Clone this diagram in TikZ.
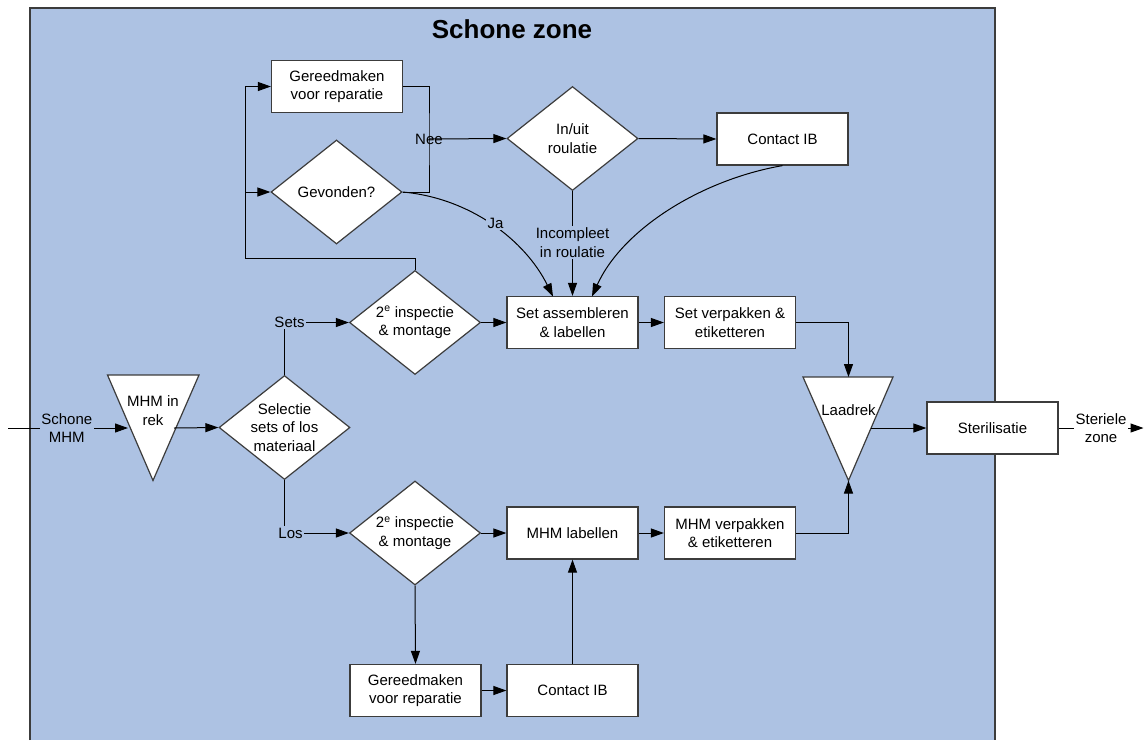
\documentclass[tikz,border=0pt]{standalone}
\usepackage{fontspec}
\setmainfont{Liberation Sans}
\usetikzlibrary{shapes.geometric,arrows.meta}
\definecolor{zone}{RGB}{173,194,227}
\definecolor{edge}{RGB}{60,60,60}
\begin{document}
\begin{tikzpicture}[x=1pt,y=-1pt,
  txt/.style={font=\fontsize{15}{18.5}\selectfont, align=center, text=black},
  box/.style={txt, draw=edge, fill=white, line width=1.2pt, minimum width=131pt, minimum height=52pt, inner sep=0pt},
  dia/.style={diamond, draw=edge, fill=white, line width=1.2pt, minimum width=131pt, minimum height=104pt, inner sep=0pt},
  tri/.style={draw=edge, fill=white, line width=1.2pt},
  con/.style={draw=black, line width=1pt},
  arr/.style={con, -{Triangle[length=13pt,width=9pt]}},
  lbl/.style={txt, fill=zone, inner sep=1.5pt},
]
\useasboundingbox (0,0) rectangle (1144,740);
% zone
\fill[zone] (30,7.5) rectangle (995,740);
\draw[edge, line width=2pt] (30,740) -- (30,7.5) -- (995,7.5) -- (995,740);
\node[font=\bfseries\fontsize{26}{30}\selectfont] (title) at (512,29) {Schone zone};

% nodes
\node[box] (gm1) at (337,86.5) {Gereedmaken\\voor reparatie};
\node[dia] (gev) at (336.5,192) {};
\node[txt] (gev-t) at (gev) {Gevonden?};
\node[dia] (inuit) at (572.5,138.5) {};
\node[txt] (inuit-t) at (inuit) {In/uit\\roulatie};
\node[box] (cib1) at (782.5,139) {Contact IB};
\node[dia] (insp1) at (415,322.5) {};
\node[txt] (insp1-t) at (insp1) {2\textsuperscript{e} inspectie\\\& montage};
\node[box] (setass) at (572.5,322.5) {Set assembleren\\\& labellen};
\node[box] (setver) at (730,322.5) {Set verpakken \&\\etiketteren};
\node[box] (ster) at (992.5,428) {Sterilisatie};
\node[dia] (sel) at (284.5,427.5) {};
\node[txt] (sel-t) at (sel) {Selectie\\sets of los\\materiaal};
\node[dia] (insp2) at (415,533) {};
\node[txt] (insp2-t) at (insp2) {2\textsuperscript{e} inspectie\\\& montage};
\node[box] (mhmlab) at (572.5,533) {MHM labellen};
\node[box] (mhmver) at (730,533) {MHM verpakken\\\& etiketteren};
\node[box] (gm2) at (415.5,690.5) {Gereedmaken\\voor reparatie};
\node[box] (cib2) at (572.5,690.5) {Contact IB};

% triangles
\draw[tri] (107.5,375) -- (199,375) -- (153,480.5) -- cycle;
\node[txt] (rek) at (153,410.5) {MHM in\\rek};
\coordinate (rek-in) at (128,428);
\coordinate (rek-out) at (174,428);
\draw[tri] (803,377) -- (893,377) -- (848.5,480.5) -- cycle;
\node[txt] (laad) at (848.5,410) {Laadrek};
\coordinate (laad-top) at (848.5,377);
\coordinate (laad-apex) at (848.5,480.5);
\coordinate (laad-out) at (870.5,428);

% helper coordinates
\coordinate (inL) at (8,428);
\coordinate (outR) at (1143.5,428);
\coordinate (bend) at (245,258);
\coordinate (nee) at (429,139);

% connectors
\draw[arr] (inL) -- (rek-in) node[lbl, pos=0.49] (schone) {Schone\\MHM};
\draw[arr] (rek-out) -- (sel.west);
\draw[arr] (sel.north) |- (insp1.west) node[lbl, pos=0.5, xshift=5pt] (sets) {Sets};
\draw[arr] (sel.south) |- (insp2.west) node[lbl, pos=0.5, xshift=6pt] (los) {Los};
\draw[arr] (insp1.east) -- (setass.west);
\draw[arr] (insp1.north) |- (bend) |- (gm1.west);
\draw[arr] (bend |- gev.west) -- (gev.west);
\draw[con] (gm1.east) -| (nee) |- (gev.east);
\draw[arr] (nee) -- (inuit.west);
\node[txt, inner sep=0pt] (nee-t) at (429,139) {Nee};
\draw[arr] (gev.east) .. controls (470,198) and (525,240) .. (553,296.5) node[lbl, pos=0.5, xshift=3pt, yshift=2pt] (ja) {Ja};
\draw[arr] (inuit.south) -- (inuit.south |- setass.north) node[lbl, pos=0.49] (incomp) {Incompleet\\in roulatie};
\draw[arr] (inuit.east) -- (cib1.west);
\draw[arr] (cib1.south) .. controls (700,180) and (622,230) .. (592,296.5);
\draw[arr] (setass.east) -- (setver.west);
\draw[arr] (setver.east) -| (laad-top);
\draw[arr] (mhmver.east) -| (laad-apex);
\draw[arr] (laad-out) -- (ster.west);
\draw[arr] (ster.east) -- (outR) node[txt, fill=white, inner sep=1.5pt, pos=0.5] (sterzone) {Steriele\\zone};
\draw[arr] (insp2.east) -- (mhmlab.west);
\draw[arr] (mhmlab.east) -- (mhmver.west);
\draw[arr] (insp2.south) -- (gm2.north);
\draw[arr] (gm2.east) -- (cib2.west);
\draw[arr] (cib2.north) -- (mhmlab.south);
\end{tikzpicture}
\end{document}
